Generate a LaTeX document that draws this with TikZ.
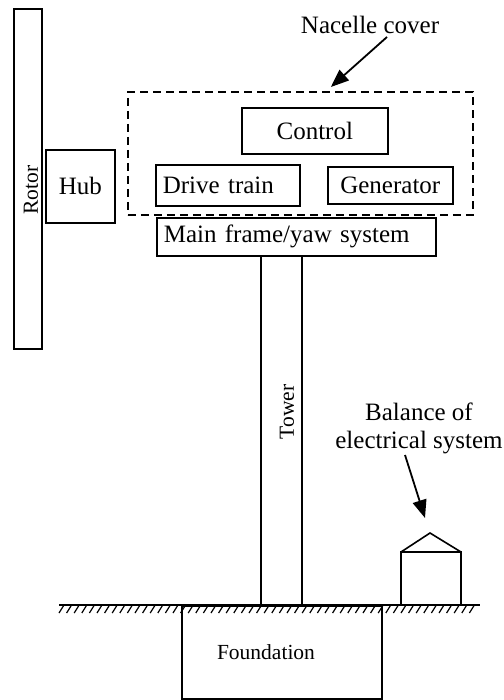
\documentclass[tikz,border=0pt]{standalone}
\usepackage{fontspec}
\setmainfont{Liberation Serif}
\usetikzlibrary{arrows.meta}
\begin{document}
\begin{tikzpicture}[x=1pt,y=-1pt,
  box/.style={draw,line width=1.6pt,inner sep=0pt,anchor=north west,font=\fontsize{25}{28}\selectfont},
  lbox/.style={box,align=left,inner xsep=7pt},
  lbl/.style={inner sep=0pt,font=\fontsize{25}{28}\selectfont},
  small/.style={inner sep=0pt,font=\fontsize{21.5}{24}\selectfont},
  arr/.style={line width=1.8pt,-{Triangle[length=18pt,width=14pt]}},
  ln/.style={line width=1.6pt}]
\useasboundingbox (0,0) rectangle (503,700);
% rotor and hub
\node[box,minimum width=28pt,minimum height=340pt] (rotor) at (13,8) {};
\node[small,rotate=90] (rotorlbl) at (31,190) {Rotor};
\node[box,minimum width=69pt,minimum height=73pt] (hub) at (45,149) {Hub};
% nacelle
\node[draw,dash pattern=on 8pt off 5pt,line width=1.7pt,anchor=north west,
      minimum width=345pt,minimum height=123pt,inner sep=0pt] (nacelle) at (127,91) {};
\node[box,minimum width=146pt,minimum height=46pt] (control) at (241,107) {Control};
\node[lbox,minimum width=144pt,minimum height=41pt,text width=130pt] (drive) at (155,164) {Drive train};
\node[box,minimum width=125pt,minimum height=37pt] (gen) at (327,166) {Generator};
\node[lbox,minimum width=279pt,minimum height=38pt,text width=265pt] (frame) at (156,217) {Main frame/yaw system};
\node[lbl] (ncl) at (370,25) {Nacelle cover};
\draw[arr] ([xshift=17pt,yshift=-3pt]ncl.south) -- ([xshift=30.5pt,yshift=4pt]nacelle.north);
% tower
\coordinate (tl) at (261,255);
\coordinate (tr) at (302,255);
\coordinate (gl) at (261,605);
\coordinate (gr) at (302,605);
\draw[ln] (tl) -- (gl);
\draw[line width=1.9pt] (tr) -- (gr);
\node[small,rotate=90] (towerlbl) at (287,412) {Tower};
% ground
\draw[line width=1.8pt] (59,605) -- (480,605);
\foreach \x in {64,71.6,...,482} \draw[line width=1.2pt] (\x,605) -- (\x-5,613);
% foundation
\node[box,minimum width=200pt,minimum height=93pt] (found) at (181,605) {};
\node[small] (foundlbl) at (266,652) {Foundation};
% balance of electrical system
\coordinate (apex) at (430,533);
\draw[ln] (401,605) -- (401,552) -- (461,552) -- (461,605);
\draw[ln] (401,552) -- (apex) -- (461,552);
\node[lbl,align=center] (bal) at (419,428) {Balance of\\electrical system};
\draw[arr] (405,455) -- ([xshift=-5pt,yshift=15pt]apex);
\end{tikzpicture}
\end{document}
